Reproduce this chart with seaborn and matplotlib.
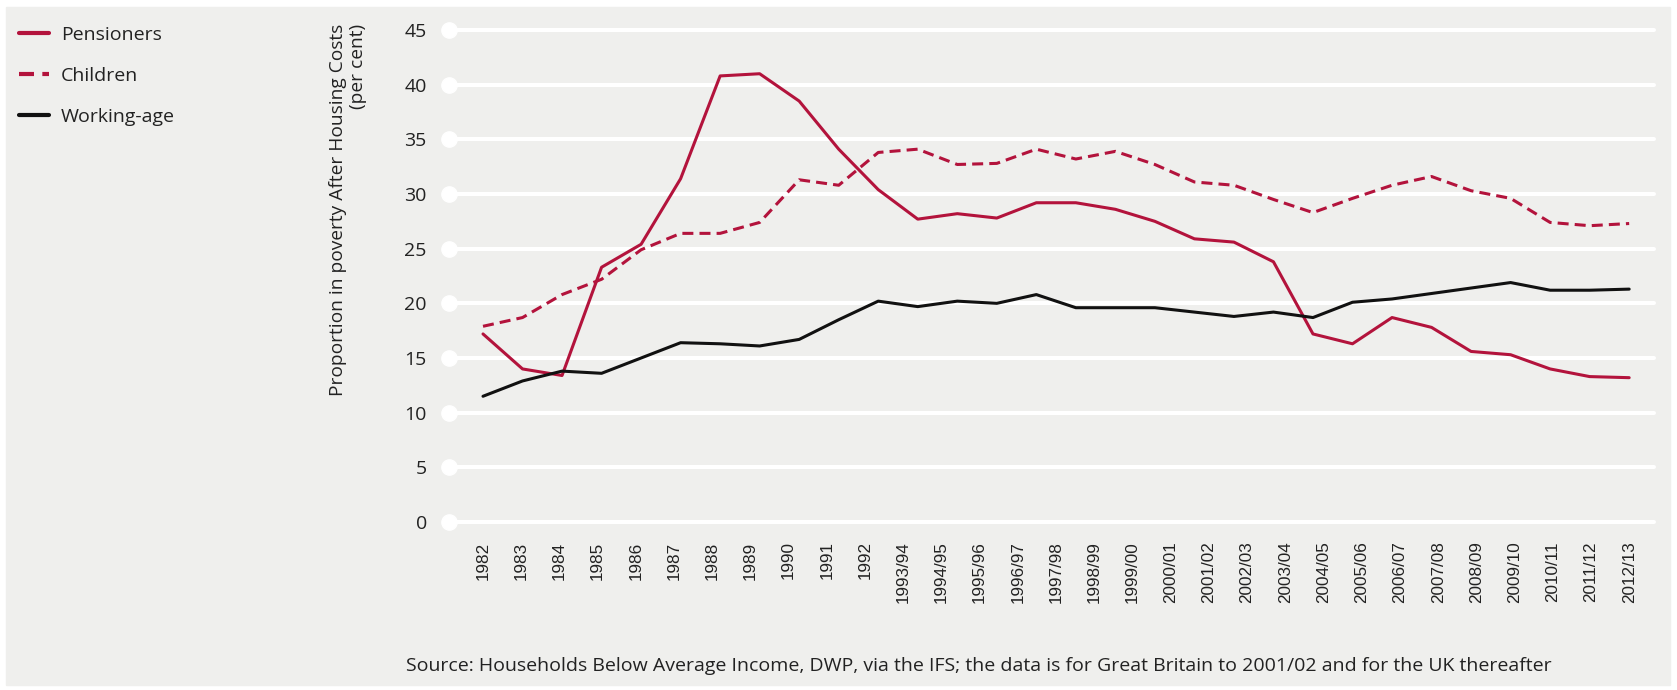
import matplotlib
matplotlib.use("Agg")
import matplotlib.pyplot as plt
import pandas as pd
import numpy as np
import seaborn as sns

# period labels on the x axis (31 labels)
periods = ["1982", "1983", "1984", "1985", "1986", "1987", "1988", "1989", "1990", "1991",
           "1992", "1993/94", "1994/95", "1995/96", "1996/97", "1997/98", "1998/99",
           "1999/00", "2000/01", "2001/02", "2002/03", "2003/04", "2004/05", "2005/06",
           "2006/07", "2007/08", "2008/09", "2009/10", "2010/11", "2011/12", "2012/13"]

# the source draws 30 observations spread evenly across the 31 labels
pensioners = [17.2, 14.0, 13.4, 23.3, 25.4, 31.4, 40.8, 41.0, 38.5, 34.1,
              30.4, 27.7, 28.2, 27.8, 29.2, 29.2, 28.6, 27.5, 25.9, 25.6,
              23.8, 17.2, 16.3, 18.7, 17.8, 15.6, 15.3, 14.0, 13.3, 13.2]
children = [17.9, 18.7, 20.8, 22.2, 24.9, 26.4, 26.4, 27.4, 31.3, 30.8,
            33.8, 34.1, 32.7, 32.8, 34.1, 33.2, 33.9, 32.7, 31.1, 30.8,
            29.5, 28.3, 29.6, 30.8, 31.6, 30.3, 29.6, 27.4, 27.1, 27.3]
working_age = [11.5, 12.9, 13.8, 13.6, 15.0, 16.4, 16.3, 16.1, 16.7, 18.5,
               20.2, 19.7, 20.2, 20.0, 20.8, 19.6, 19.6, 19.6, 19.2, 18.8,
               19.2, 18.7, 20.1, 20.4, 20.9, 21.4, 21.9, 21.2, 21.2, 21.3]

series_names = ["Pensioners", "Children", "Working-age"]
y_ticks = [0, 5, 10, 15, 20, 25, 30, 35, 40, 45]

W, H = 1677, 690
RED = "#b3133c"
BLACK = "#111111"
BG = "#efefed"
TXT = "#222222"

sns.set_theme(style="white")
plt.rcParams["font.family"] = ["Open Sans", "DejaVu Sans"]

fig = plt.figure(figsize=(W / 100, H / 100), dpi=100, facecolor="white")
fig.patches.append(plt.Rectangle((6 / W, 5 / H), (1670 - 6) / W, (683 - 5) / H,
                                 transform=fig.transFigure, color=BG, zorder=-10))

ax = fig.add_axes([449 / W, (H - 522) / H, (1654 - 449) / W, (522 - 30) / H])
ax.set_facecolor("none")

n = len(pensioners)
xpos = np.linspace(0, len(periods) - 1, n)
df = pd.DataFrame({
    "x": np.tile(xpos, 3),
    "value": pensioners + children + working_age,
    "series": np.repeat(series_names, n),
})

sns.lineplot(data=df, x="x", y="value", hue="series", style="series",
             hue_order=series_names, style_order=series_names,
             palette={"Pensioners": RED, "Children": RED, "Working-age": BLACK},
             dashes={"Pensioners": "", "Children": (3.6, 2.0), "Working-age": ""},
             linewidth=2.2, sort=False, ax=ax)

handles, labels = ax.get_legend_handles_labels()
ax.get_legend().remove()

ax.set_xlim(-0.89, 30.65)
ax.set_ylim(0, 45)
ax.set_yticks(y_ticks)
ax.set_xticks(range(len(periods)))
ax.set_xticklabels(periods, rotation=90, fontsize=12.3, family=["Liberation Sans"], color=TXT)
ax.tick_params(axis="x", length=0, pad=14)
ax.tick_params(axis="y", length=0, pad=16, labelsize=14, labelcolor=TXT)
ax.set_xlabel("")
ax.set_ylabel("")
ax.grid(axis="y", color="white", linewidth=2.9)
ax.grid(axis="x", visible=False)
ax.set_axisbelow(True)
for gl in ax.get_ygridlines():
    gl.set_clip_on(False)
for s in ax.spines.values():
    s.set_visible(False)

# white dots at the start of each gridline
ax.plot(np.zeros(len(y_ticks)), y_ticks, "o", color="white", markersize=11,
        transform=ax.get_yaxis_transform(), clip_on=False, zorder=1)

leg = fig.legend(handles, labels, loc="upper left", bbox_to_anchor=(19 / W, 1 - 26 / H),
                 frameon=False, fontsize=14, handlelength=1.55, handletextpad=0.6,
                 labelspacing=1.17, borderpad=0, borderaxespad=0)
for h in leg.get_lines():
    h.set_linewidth(3.0)
for t in leg.get_texts():
    t.set_color(TXT)

fig.text(348 / W, 1 - 24 / H, "Proportion in poverty After Housing Costs\n(per cent)",
         rotation=90, ha="center", va="top", multialignment="right",
         fontsize=13.8, color=TXT, linespacing=1.2)

fig.text(406 / W, 1 - 666 / H,
         "Source: Households Below Average Income, DWP, via the IFS; the data is for Great Britain to 2001/02 and for the UK thereafter",
         ha="left", va="center", fontsize=14, color=TXT)

fig.savefig("out.png", dpi=100, facecolor="white")
